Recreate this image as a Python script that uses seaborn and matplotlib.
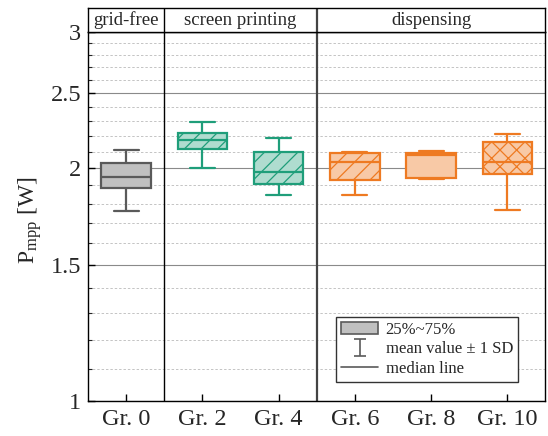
import numpy as np
import pandas as pd
import seaborn as sns
import matplotlib.pyplot as plt
from matplotlib.patches import Patch
from matplotlib.lines import Line2D
from matplotlib.ticker import NullFormatter

groups = ["Gr. 0", "Gr. 2", "Gr. 4", "Gr. 6", "Gr. 8", "Gr. 10"]
# mean - SD, 25 %, median, 75 %, mean + SD  (P_mpp in W)
lo = [1.760, 2.002, 1.848, 1.846, 1.935, 1.764]
q1 = [1.883, 2.115, 1.909, 1.930, 1.944, 1.965]
med = [1.950, 2.177, 1.975, 2.037, 2.078, 2.038]
q3 = [2.032, 2.222, 2.098, 2.094, 2.094, 2.162]
hi = [2.111, 2.292, 2.189, 2.100, 2.104, 2.214]

sections = ["grid-free", "screen printing", "dispensing"]
section_centres = [0, 1.5, 4]

fills = ["#c0c0c0", "#afdccf", "#afdccf", "#f8c9a6", "#f8c9a6", "#f8c9a6"]
edges = ["#5a5a5a", "#1f9e7a", "#1f9e7a", "#ee7a22", "#ee7a22", "#ee7a22"]
hatches = [None, "//", "//", "//", None, "xx"]

# five points per group -> quartiles of 5 sorted values land exactly on q1/median/q3
rows = []
for g, a, b, c, d, e in zip(groups, lo, q1, med, q3, hi):
    for v in (a, b, c, d, e):
        rows.append((g, v))
df = pd.DataFrame(rows, columns=["group", "value"])

sns.set_theme(style="ticks")
plt.rcParams['font.family'] = ['Liberation Serif', 'DejaVu Serif']
plt.rcParams['mathtext.fontset'] = 'custom'
plt.rcParams['mathtext.rm'] = 'Liberation Serif'
plt.rcParams['mathtext.it'] = 'Liberation Serif:italic'
plt.rcParams['hatch.linewidth'] = 0.9

fig = plt.figure(figsize=(5.48, 4.36), dpi=100)
ax = fig.add_axes([0.1606, 0.0803, 0.8348, 0.8463])
ax.set_yscale('log')

for g, fc, ec, h in zip(groups, fills, edges, hatches):
    sns.boxplot(data=df[df.group == g], x="group", y="value", order=groups,
                color=fc, linecolor=ec, linewidth=1.6, width=0.65, saturation=1,
                whis=(0, 100), fliersize=0, ax=ax)
    ax.patches[-1].set_hatch(h)
    ax.patches[-1].set_edgecolor(ec)

ax.set_xlim(-0.5, 5.5)
ax.set_ylim(1, 3)
ax.set_yticks([1, 1.5, 2, 2.5, 3], labels=["1", "1.5", "2", "2.5", "3"])
minor = [1.1, 1.2, 1.3, 1.4, 1.6, 1.7, 1.8, 1.9, 2.1, 2.2, 2.3, 2.4, 2.6, 2.7, 2.8, 2.9]
ax.set_yticks(minor, minor=True)
ax.yaxis.set_minor_formatter(NullFormatter())
ax.yaxis.grid(True, which='major', color='#8a8a8a', lw=0.8, ls='-')
ax.yaxis.grid(True, which='minor', color='#c4c4c4', lw=0.7, ls=(0, (2.5, 2)))
ax.set_axisbelow(True)

ax.axvline(0.5, color='black', lw=1.0, zorder=1)
ax.axvline(2.5, color='#444444', lw=1.6, zorder=1)

ax.tick_params(axis='both', which='major', direction='in', length=5, width=1,
               labelsize=17.5, color='black')
ax.tick_params(axis='y', which='minor', direction='in', length=3, width=0.8)
ax.tick_params(axis='x', pad=6)
ax.tick_params(axis='y', pad=5)
for s in ax.spines.values():
    s.set_visible(True)
    s.set_color('black')
    s.set_linewidth(1.0)
ax.set_xlabel("")
ax.set_ylabel("P$_{\\mathrm{mpp}}$ [W]", fontsize=17)
ax.yaxis.set_label_coords(-0.096, 0.49)

handles = [
    Patch(facecolor="#c0c0c0", edgecolor="#5a5a5a", lw=1.2),
    ax.errorbar([np.nan], [np.nan], yerr=[np.nan], ls='none', color="#5a5a5a",
                capsize=4, elinewidth=1.2, capthick=1.2),
    Line2D([], [], color="#5a5a5a", lw=1.2),
]
labels = ["25%~75%", "mean value ± 1 SD", "median line"]
leg = ax.legend(handles, labels, loc='lower right', bbox_to_anchor=(0.94, 0.052),
                borderaxespad=0, fontsize=12, frameon=True, fancybox=False,
                framealpha=1, edgecolor='#333333', handlelength=2.2,
                handletextpad=0.45, labelspacing=0.2, borderpad=0.3)
leg.get_frame().set_linewidth(1.0)

hax = fig.add_axes([0.1606, 0.9266, 0.8348, 0.055])
hax.set_xlim(-0.5, 5.5)
hax.set_ylim(0, 1)
hax.set_xticks([])
hax.set_yticks([])
for s in hax.spines.values():
    s.set_color('black')
    s.set_linewidth(1.0)
hax.axvline(0.5, color='black', lw=1.0)
hax.axvline(2.5, color='#444444', lw=1.6)
for name, xc in zip(sections, section_centres):
    hax.text(xc, 0.48, name, ha='center', va='center', fontsize=13.5)

fig.savefig("out.png", dpi=100)
